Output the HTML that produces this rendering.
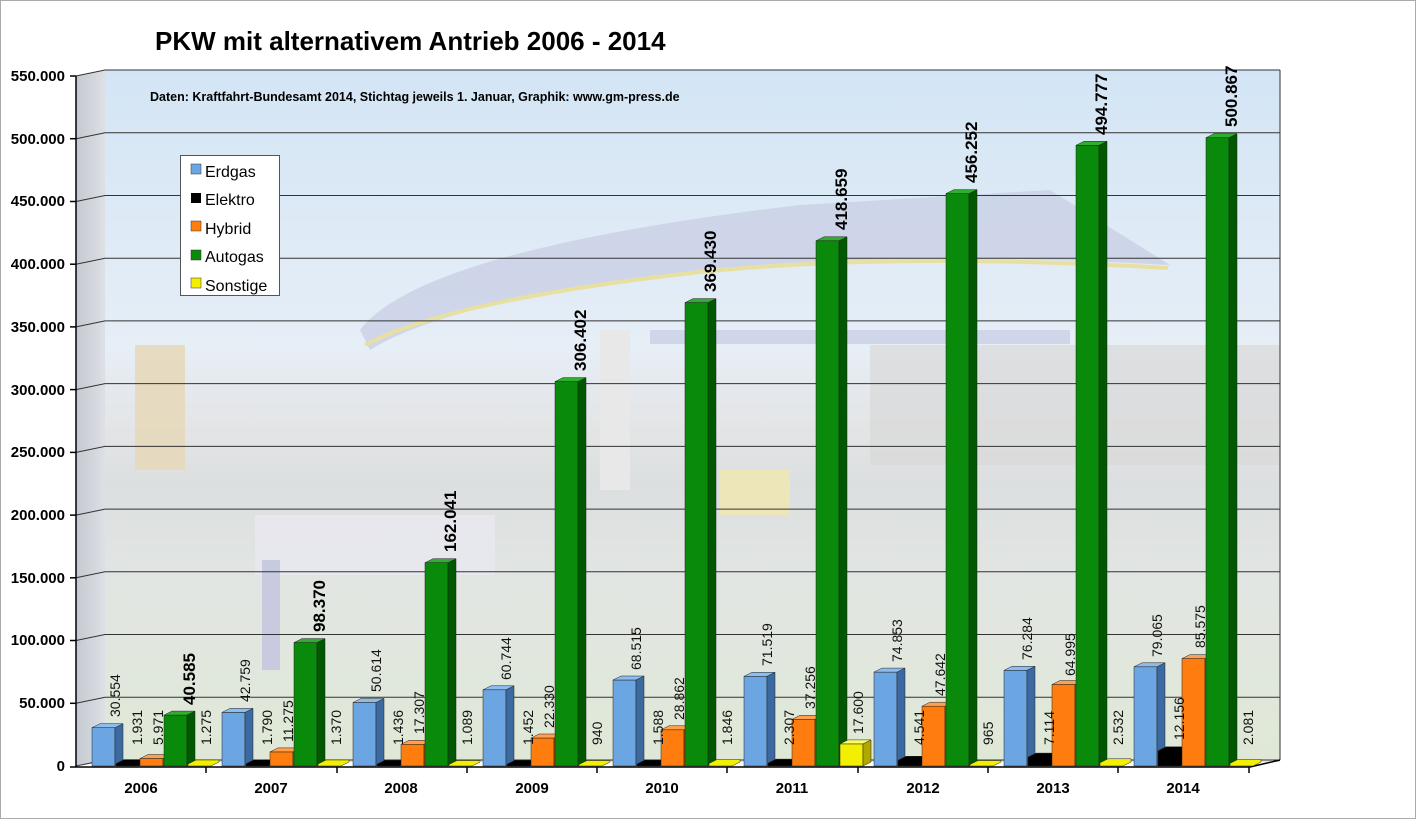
<!DOCTYPE html>
<html><head><meta charset="utf-8"><style>
html,body{margin:0;padding:0;background:#fff;}
svg{display:block;font-family:"Liberation Sans",Arial,sans-serif;}
</style></head><body>
<svg width="1417" height="821" viewBox="0 0 1417 821" xmlns="http://www.w3.org/2000/svg">
<defs>
<linearGradient id="bg" x1="0" y1="0" x2="0" y2="1">
<stop offset="0" stop-color="#d3e5f5"/>
<stop offset="0.4" stop-color="#e6eef6"/>
<stop offset="0.5" stop-color="#e4e6e8"/>
<stop offset="0.6" stop-color="#dcdfe0"/>
<stop offset="0.75" stop-color="#e2e6e2"/>
<stop offset="1" stop-color="#dfe8d6"/>
</linearGradient>
<linearGradient id="sw" x1="0" y1="0" x2="1" y2="0">
<stop offset="0" stop-color="#c4c8d0"/><stop offset="1" stop-color="#dde1e6"/>
</linearGradient>
</defs>
<rect x="0.5" y="0.5" width="1415" height="818" fill="#fff" stroke="#aaa"/>
<rect x="105" y="70" width="1175" height="692" fill="url(#bg)"/>
<path d="M360 330 Q420 250 800 205 L1050 190 L1170 265 Q900 250 700 270 Q450 300 370 350 Z" fill="#c9cfe6" opacity="0.8"/>
<path d="M365 345 Q450 300 700 272 Q900 252 1168 268" fill="none" stroke="#e8e0a0" stroke-width="4"/>
<rect x="870" y="345" width="410" height="120" fill="#d8d8d8" opacity="0.7"/>
<rect x="650" y="330" width="420" height="14" fill="#c9cfe6" opacity="0.8"/>
<rect x="135" y="345" width="50" height="125" fill="#e6d7b5" opacity="0.8"/>
<rect x="255" y="515" width="240" height="60" fill="#e8e8ee" opacity="0.9"/>
<rect x="262" y="560" width="18" height="110" fill="#c8cbe0"/>
<rect x="720" y="470" width="70" height="45" fill="#ece6b8"/>
<rect x="600" y="330" width="30" height="160" fill="#e8e8e8"/>
<polygon points="76,76 105,70 105,762 76,766" fill="url(#sw)"/>
<g stroke="#333" stroke-width="1" fill="none">
<polyline points="76,766 105,760 1280,760"/>
<polyline points="76,703.3 105,697.3 1280,697.3"/>
<polyline points="76,640.5 105,634.5 1280,634.5"/>
<polyline points="76,577.8 105,571.8 1280,571.8"/>
<polyline points="76,515.1 105,509.1 1280,509.1"/>
<polyline points="76,452.4 105,446.4 1280,446.4"/>
<polyline points="76,389.6 105,383.6 1280,383.6"/>
<polyline points="76,326.9 105,320.9 1280,320.9"/>
<polyline points="76,264.2 105,258.2 1280,258.2"/>
<polyline points="76,201.5 105,195.5 1280,195.5"/>
<polyline points="76,138.7 105,132.7 1280,132.7"/>
<polyline points="76,76 105,70 1280,70"/>
<line x1="1280" y1="70" x2="1280" y2="760"/>
</g>
<g stroke="#000" stroke-width="1.5">
<line x1="76" y1="76" x2="76" y2="767"/>
<line x1="70" y1="767" x2="1250" y2="767"/>
<line x1="1250" y1="767" x2="1280" y2="760"/>
<line x1="70" y1="703.3" x2="76" y2="703.3"/><line x1="70" y1="640.5" x2="76" y2="640.5"/>
<line x1="70" y1="577.8" x2="76" y2="577.8"/><line x1="70" y1="515.1" x2="76" y2="515.1"/>
<line x1="70" y1="452.4" x2="76" y2="452.4"/><line x1="70" y1="389.6" x2="76" y2="389.6"/>
<line x1="70" y1="326.9" x2="76" y2="326.9"/><line x1="70" y1="264.2" x2="76" y2="264.2"/>
<line x1="70" y1="201.5" x2="76" y2="201.5"/><line x1="70" y1="138.7" x2="76" y2="138.7"/>
<line x1="70" y1="76" x2="76" y2="76"/>
<line x1="206" y1="767" x2="206" y2="773"/><line x1="337" y1="767" x2="337" y2="773"/>
<line x1="467" y1="767" x2="467" y2="773"/><line x1="597" y1="767" x2="597" y2="773"/>
<line x1="727" y1="767" x2="727" y2="773"/><line x1="858" y1="767" x2="858" y2="773"/>
<line x1="988" y1="767" x2="988" y2="773"/><line x1="1118" y1="767" x2="1118" y2="773"/>
<line x1="1249" y1="767" x2="1249" y2="773"/>
</g>
<g font-size="15" font-weight="bold" text-anchor="end" fill="#000">
<text x="65" y="771">0</text><text x="65" y="708">50.000</text><text x="65" y="645">100.000</text>
<text x="65" y="583">150.000</text><text x="65" y="520">200.000</text><text x="65" y="457">250.000</text>
<text x="65" y="395">300.000</text><text x="65" y="332">350.000</text><text x="65" y="269">400.000</text>
<text x="65" y="206">450.000</text><text x="65" y="144">500.000</text><text x="65" y="81">550.000</text>
</g>
<g font-size="15" font-weight="bold" text-anchor="middle">
<text x="141" y="793">2006</text><text x="271" y="793">2007</text><text x="401" y="793">2008</text>
<text x="532" y="793">2009</text><text x="662" y="793">2010</text><text x="792" y="793">2011</text>
<text x="923" y="793">2012</text><text x="1053" y="793">2013</text><text x="1183" y="793">2014</text>
</g>
<text x="155" y="50" font-size="26" font-weight="bold">PKW mit alternativem Antrieb 2006 - 2014</text>
<text x="150" y="101" font-size="12.5" font-weight="bold">Daten: Kraftfahrt-Bundesamt 2014, Stichtag jeweils 1. Januar, Graphik: www.gm-press.de</text>

<g stroke="#222" stroke-width="0.5">
<g fill="#6ca6e2">
<rect x="92" y="727.7" width="23" height="38.3"/><rect x="222" y="712.4" width="23" height="53.6"/><rect x="353" y="702.5" width="23" height="63.5"/>
<rect x="483" y="689.8" width="23" height="76.2"/><rect x="613" y="680" width="23" height="86"/><rect x="744" y="676.3" width="23" height="89.7"/>
<rect x="874" y="672.1" width="23" height="93.9"/><rect x="1004" y="670.3" width="23" height="95.7"/><rect x="1134" y="666.8" width="23" height="99.2"/>
</g>
<g fill="#3c6aa0">
<polygon points="115,727.7 123,723.7 123,762 115,766"/><polygon points="245,712.4 253,708.4 253,762 245,766"/><polygon points="376,702.5 384,698.5 384,762 376,766"/>
<polygon points="506,689.8 514,685.8 514,762 506,766"/><polygon points="636,680 644,676 644,762 636,766"/><polygon points="767,676.3 775,672.3 775,762 767,766"/>
<polygon points="897,672.1 905,668.1 905,762 897,766"/><polygon points="1027,670.3 1035,666.3 1035,762 1027,766"/><polygon points="1157,666.8 1165,662.8 1165,762 1157,766"/>
</g>
<g fill="#8dbcee">
<polygon points="92,727.7 100,723.7 123,723.7 115,727.7"/><polygon points="222,712.4 230,708.4 253,708.4 245,712.4"/><polygon points="353,702.5 361,698.5 384,698.5 376,702.5"/>
<polygon points="483,689.8 491,685.8 514,685.8 506,689.8"/><polygon points="613,680 621,676 644,676 636,680"/><polygon points="744,676.3 752,672.3 775,672.3 767,676.3"/>
<polygon points="874,672.1 882,668.1 905,668.1 897,672.1"/><polygon points="1004,670.3 1012,666.3 1035,666.3 1027,670.3"/><polygon points="1134,666.8 1142,662.8 1165,662.8 1157,666.8"/>
</g>
<g fill="#000">
<polygon points="116,763.6 124,759.6 147,759.6 147,762 139,766 116,766"/><polygon points="246,763.8 254,759.8 277,759.8 277,762 269,766 246,766"/>
<polygon points="377,764.2 385,760.2 408,760.2 408,762 400,766 377,766"/><polygon points="507,764.2 515,760.2 538,760.2 538,762 530,766 507,766"/>
<polygon points="637,764 645,760 668,760 668,762 660,766 637,766"/><polygon points="768,763.1 776,759.1 799,759.1 799,762 791,766 768,766"/>
<polygon points="898,760.3 906,756.3 929,756.3 929,762 921,766 898,766"/><polygon points="1028,757.1 1036,753.1 1059,753.1 1059,762 1051,766 1028,766"/>
<polygon points="1158,750.8 1166,746.8 1189,746.8 1189,762 1181,766 1158,766"/>
</g>
<g fill="#ff7d0e">
<rect x="140" y="758.5" width="23" height="7.5"/><rect x="270" y="751.9" width="23" height="14.1"/><rect x="401" y="744.3" width="23" height="21.7"/>
<rect x="531" y="738" width="23" height="28"/><rect x="661" y="729.8" width="23" height="36.2"/><rect x="792" y="719.3" width="23" height="46.7"/>
<rect x="922" y="706.2" width="23" height="59.8"/><rect x="1052" y="684.5" width="23" height="81.5"/><rect x="1182" y="658.6" width="23" height="107.4"/>
</g>
<g fill="#bd5800">
<polygon points="163,758.5 171,754.5 171,762 163,766"/><polygon points="293,751.9 301,747.9 301,762 293,766"/><polygon points="424,744.3 432,740.3 432,762 424,766"/>
<polygon points="554,738 562,734 562,762 554,766"/><polygon points="684,729.8 692,725.8 692,762 684,766"/><polygon points="815,719.3 823,715.3 823,762 815,766"/>
<polygon points="945,706.2 953,702.2 953,762 945,766"/><polygon points="1075,684.5 1083,680.5 1083,762 1075,766"/><polygon points="1205,658.6 1213,654.6 1213,762 1205,766"/>
</g>
<g fill="#ffa050">
<polygon points="140,758.5 148,754.5 171,754.5 163,758.5"/><polygon points="270,751.9 278,747.9 301,747.9 293,751.9"/><polygon points="401,744.3 409,740.3 432,740.3 424,744.3"/>
<polygon points="531,738 539,734 562,734 554,738"/><polygon points="661,729.8 669,725.8 692,725.8 684,729.8"/><polygon points="792,719.3 800,715.3 823,715.3 815,719.3"/>
<polygon points="922,706.2 930,702.2 953,702.2 945,706.2"/><polygon points="1052,684.5 1060,680.5 1083,680.5 1075,684.5"/><polygon points="1182,658.6 1190,654.6 1213,654.6 1205,658.6"/>
</g>
<g fill="#0a8a0a">
<rect x="164" y="715.1" width="23" height="50.9"/><rect x="294" y="642.6" width="23" height="123.4"/><rect x="425" y="562.7" width="23" height="203.3"/>
<rect x="555" y="381.6" width="23" height="384.4"/><rect x="685" y="302.6" width="23" height="463.4"/><rect x="816" y="240.8" width="23" height="525.2"/>
<rect x="946" y="193.6" width="23" height="572.4"/><rect x="1076" y="145.3" width="23" height="620.7"/><rect x="1206" y="137.7" width="23" height="628.3"/>
</g>
<g fill="#005800">
<polygon points="187,715.1 195,711.1 195,762 187,766"/><polygon points="317,642.6 325,638.6 325,762 317,766"/><polygon points="448,562.7 456,558.7 456,762 448,766"/>
<polygon points="578,381.6 586,377.6 586,762 578,766"/><polygon points="708,302.6 716,298.6 716,762 708,766"/><polygon points="839,240.8 847,236.8 847,762 839,766"/>
<polygon points="969,193.6 977,189.6 977,762 969,766"/><polygon points="1099,145.3 1107,141.3 1107,762 1099,766"/><polygon points="1229,137.7 1237,133.7 1237,762 1229,766"/>
</g>
<g fill="#2fae2f">
<polygon points="164,715.1 172,711.1 195,711.1 187,715.1"/><polygon points="294,642.6 302,638.6 325,638.6 317,642.6"/><polygon points="425,562.7 433,558.7 456,558.7 448,562.7"/>
<polygon points="555,381.6 563,377.6 586,377.6 578,381.6"/><polygon points="685,302.6 693,298.6 716,298.6 708,302.6"/><polygon points="816,240.8 824,236.8 847,236.8 839,240.8"/>
<polygon points="946,193.6 954,189.6 977,189.6 969,193.6"/><polygon points="1076,145.3 1084,141.3 1107,141.3 1099,145.3"/><polygon points="1206,137.7 1214,133.7 1237,133.7 1229,137.7"/>
</g>
<g fill="#f2f000">
<polygon points="188,764 196,760 219,760 219,762 211,766 188,766"/><polygon points="318,764 326,760 349,760 349,762 341,766 318,766"/>
<polygon points="449,764.5 457,760.5 480,760.5 480,762 472,766 449,766"/><polygon points="579,764.5 587,760.5 610,760.5 610,762 602,766 579,766"/>
<polygon points="709,763.5 717,759.5 740,759.5 740,762 732,766 709,766"/>
<rect x="840" y="743.9" width="23" height="22.1"/>
<polygon points="970,764.5 978,760.5 1001,760.5 1001,762 993,766 970,766"/><polygon points="1100,762.8 1108,758.8 1131,758.8 1131,762 1123,766 1100,766"/>
<polygon points="1230,763.4 1238,759.4 1261,759.4 1261,762 1253,766 1230,766"/>
</g>
<polygon points="863,743.9 871,739.9 871,762 863,766" fill="#b0a800"/>
<polygon points="840,743.9 848,739.9 871,739.9 863,743.9" fill="#fafa70"/>
</g>

<g font-size="14" fill="#111">
<text transform="translate(120,717) rotate(-90)">30.554</text>
<text transform="translate(142,745) rotate(-90)">1.931</text>
<text transform="translate(163,745) rotate(-90)">5.971</text>
<text transform="translate(211,745) rotate(-90)">1.275</text>
<text transform="translate(250,702) rotate(-90)">42.759</text>
<text transform="translate(272,745) rotate(-90)">1.790</text>
<text transform="translate(293,742) rotate(-90)">11.275</text>
<text transform="translate(341,745) rotate(-90)">1.370</text>
<text transform="translate(381,692) rotate(-90)">50.614</text>
<text transform="translate(403,745) rotate(-90)">1.436</text>
<text transform="translate(424,734) rotate(-90)">17.307</text>
<text transform="translate(472,745) rotate(-90)">1.089</text>
<text transform="translate(511,680) rotate(-90)">60.744</text>
<text transform="translate(533,745) rotate(-90)">1.452</text>
<text transform="translate(554,728) rotate(-90)">22.330</text>
<text transform="translate(602,745) rotate(-90)">940</text>
<text transform="translate(641,670) rotate(-90)">68.515</text>
<text transform="translate(663,745) rotate(-90)">1.588</text>
<text transform="translate(684,720) rotate(-90)">28.862</text>
<text transform="translate(732,745) rotate(-90)">1.846</text>
<text transform="translate(772,666) rotate(-90)">71.519</text>
<text transform="translate(794,745) rotate(-90)">2.307</text>
<text transform="translate(815,709) rotate(-90)">37.256</text>
<text transform="translate(863,734) rotate(-90)">17.600</text>
<text transform="translate(902,662) rotate(-90)">74.853</text>
<text transform="translate(924,745) rotate(-90)">4.541</text>
<text transform="translate(945,696) rotate(-90)">47.642</text>
<text transform="translate(993,745) rotate(-90)">965</text>
<text transform="translate(1032,660) rotate(-90)">76.284</text>
<text transform="translate(1054,745) rotate(-90)">7.114</text>
<text transform="translate(1075,676) rotate(-90)">64.995</text>
<text transform="translate(1123,745) rotate(-90)">2.532</text>
<text transform="translate(1162,657) rotate(-90)">79.065</text>
<text transform="translate(1184,740) rotate(-90)">12.156</text>
<text transform="translate(1205,648) rotate(-90)">85.575</text>
<text transform="translate(1253,745) rotate(-90)">2.081</text>
</g>
<g font-size="17" font-weight="bold" fill="#000">
<text transform="translate(195,705) rotate(-90)">40.585</text>
<text transform="translate(325,632) rotate(-90)">98.370</text>
<text transform="translate(456,552) rotate(-90)">162.041</text>
<text transform="translate(586,371) rotate(-90)">306.402</text>
<text transform="translate(716,292) rotate(-90)">369.430</text>
<text transform="translate(847,230) rotate(-90)">418.659</text>
<text transform="translate(977,183) rotate(-90)">456.252</text>
<text transform="translate(1107,135) rotate(-90)">494.777</text>
<text transform="translate(1237,127) rotate(-90)">500.867</text>
</g>

<rect x="180.5" y="155.5" width="99" height="140" fill="#fff" stroke="#555"/>
<g font-size="16" fill="#000">
<rect x="191" y="164" width="10" height="10" fill="#6ca6e2" stroke="#333" stroke-width="0.5"/><text x="205" y="177">Erdgas</text>
<rect x="191" y="193" width="10" height="10" fill="#000"/><text x="205" y="205">Elektro</text>
<rect x="191" y="221" width="10" height="10" fill="#ff7d0e" stroke="#333" stroke-width="0.5"/><text x="205" y="234">Hybrid</text>
<rect x="191" y="250" width="10" height="10" fill="#0a8a0a" stroke="#333" stroke-width="0.5"/><text x="205" y="262">Autogas</text>
<rect x="191" y="278" width="10" height="10" fill="#f2f000" stroke="#333" stroke-width="0.5"/><text x="205" y="291">Sonstige</text>
</g>
</svg>
</body></html>
